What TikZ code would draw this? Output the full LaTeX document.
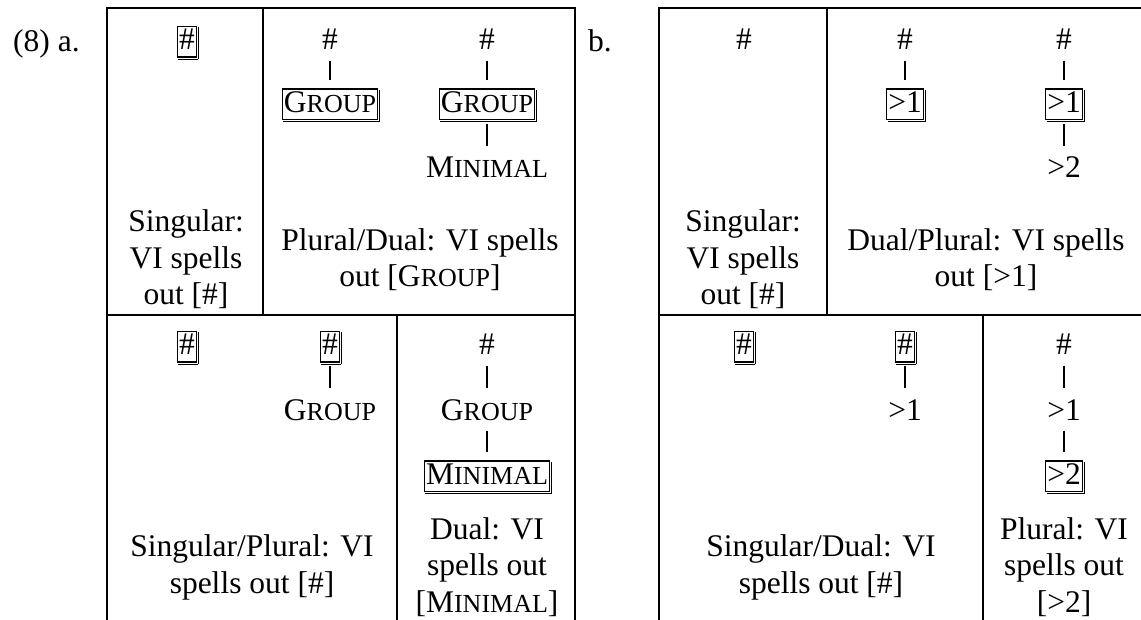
\documentclass[tikz,border=0pt]{standalone}
\usepackage{fontspec}
\setmainfont{Liberation Serif}
\newcommand\fsc[2]{#1{\fontsize{26}{26}\selectfont #2}}
\begin{document}
\begin{tikzpicture}[x=1pt,y=-1pt,
  every node/.style={font=\fontsize{31.5}{36.5}\selectfont},
  lab/.style={anchor=base, inner sep=0pt},
  txt/.style={anchor=base, inner sep=0pt, align=center},
  tn/.style={anchor=base, text height=22pt, text depth=5.5pt, inner xsep=1.5pt, inner ysep=1.5pt},
  boxed/.style={tn, draw, line width=1.3pt,
     append after command={
       [line width=0.9pt]
       ([xshift=1.4pt, yshift=-1.5pt]\tikzlastnode.north east)
       edge ([xshift=1.4pt, yshift=-1.4pt]\tikzlastnode.south east)
       ([xshift=1.4pt, yshift=-1.4pt]\tikzlastnode.south east)
       edge ([xshift=1.5pt, yshift=-1.4pt]\tikzlastnode.south west)}},
  edge/.style={line width=1.6pt, shorten <=3.5pt, shorten >=8.5pt},
  frame/.style={line width=2pt}]
\useasboundingbox (0,0) rectangle (1141,620);
\clip (0,0) rectangle (1141,620);
% table frames
\draw[frame] (107,630) -- (107,8) -- (575,8) -- (575,630);
\draw[frame] (107,315) -- (575,315);
\draw[frame] (263,8) -- (263,315);
\draw[frame] (397,315) -- (397,630);
\draw[frame] (659,630) -- (659,8) -- (1145,8) -- (1145,630);
\draw[frame] (659,315) -- (1145,315);
\draw[frame] (827,8) -- (827,315);
\draw[frame] (983,315) -- (983,630);
% labels
\node[lab, anchor=base west] (la) at (13,52) {(8) a.};
\node[lab, anchor=base west] (lb) at (588,52) {b.};
% ---- a, top row
\node[boxed] (a1) at (187,50) {\#};
\node[tn] (a2r) at (330,50) {\#};
\node[boxed] (a2g) at (330,112.5) {\fsc{G}{ROUP}};
\node[tn] (a3r) at (487,50) {\#};
\node[boxed] (a3g) at (487,112.5) {\fsc{G}{ROUP}};
\node[tn] (a3m) at (487,178) {\fsc{M}{INIMAL}};
\node[txt] (at1) at (186,305) {Singular:\\VI spells\\out [\#]};
\node[txt] (at2) at (420,287) {Plural/Dual: VI spells\\out [\fsc{G}{ROUP}]};
% ---- a, bottom row
\node[boxed] (a4r) at (187,355) {\#};
\node[boxed] (a5r) at (330,355) {\#};
\node[tn] (a5g) at (330,420) {\fsc{G}{ROUP}};
\node[tn] (a6r) at (487,355) {\#};
\node[tn] (a6g) at (487,420) {\fsc{G}{ROUP}};
\node[boxed] (a6m) at (487,484.5) {\fsc{M}{INIMAL}};
\node[txt] (at3) at (252,593) {Singular/Plural: VI\\spells out [\#]};
\node[txt] (at4) at (487,612) {Dual: VI\\spells out\\{[}\fsc{M}{INIMAL}{]}};
% ---- b, top row
\node[tn] (b1) at (744,50) {\#};
\node[tn] (b2r) at (905,50) {\#};
\node[boxed] (b2g) at (905,112.5) {>1};
\node[tn] (b3r) at (1064,50) {\#};
\node[boxed] (b3g) at (1064,112.5) {>1};
\node[tn] (b3m) at (1064,178) {>2};
\node[txt] (bt1) at (743,305) {Singular:\\VI spells\\out [\#]};
\node[txt] (bt2) at (986,287) {Dual/Plural: VI spells\\out [>1]};
% ---- b, bottom row
\node[boxed] (b4r) at (744,355) {\#};
\node[boxed] (b5r) at (905,355) {\#};
\node[tn] (b5g) at (905,420) {>1};
\node[tn] (b6r) at (1064,355) {\#};
\node[tn] (b6g) at (1064,420) {>1};
\node[boxed] (b6m) at (1064,484.5) {>2};
\node[txt] (bt3) at (821,593) {Singular/Dual: VI\\spells out [\#]};
\node[txt] (bt4) at (1064,612) {Plural: VI\\spells out\\{[}>2{]}};
% ---- tree edges
\foreach \u/\v in {a2r/a2g, a3r/a3g, a3g/a3m, a5r/a5g, a6r/a6g, a6g/a6m,
                   b2r/b2g, b3r/b3g, b3g/b3m, b5r/b5g, b6r/b6g, b6g/b6m}
  \draw[edge] (\u) -- (\v);
\end{tikzpicture}
\end{document}
